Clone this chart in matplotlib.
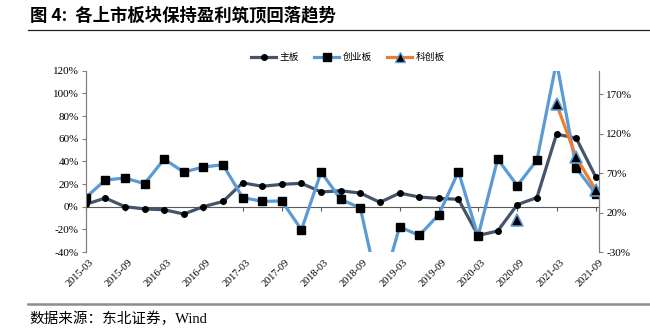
import numpy as np
import matplotlib.pyplot as plt
from matplotlib.lines import Line2D

plt.rcParams['font.family'] = ['Liberation Serif', 'Noto Sans CJK SC']

# quarterly dates, 2015-03 .. 2021-09
quarters = ['2015-03', '2015-06', '2015-09', '2015-12', '2016-03', '2016-06',
            '2016-09', '2016-12', '2017-03', '2017-06', '2017-09', '2017-12',
            '2018-03', '2018-06', '2018-09', '2018-12', '2019-03', '2019-06',
            '2019-09', '2019-12', '2020-03', '2020-06', '2020-09', '2020-12',
            '2021-03', '2021-06', '2021-09']

# net profit growth, %
main_board = [2, 7.6, 0, -2, -2.7, -6.5, 0, 4.6, 21, 18, 19.7, 20.6, 13, 14,
              12, 3.8, 12, 8.5, 7.3, 6.5, -25.4, -21.5, 1.8, 8, 64, 60.5, 26.2]
chinext = [8, 23.5, 25.3, 20.3, 42, 30.5, 35, 37, 8, 4.7, 5, -20.4, 30.5, 6.5,
           -1.2, -79, -17.7, -25.4, -7, 31, -26, 42, 18.6, 41, 128, 34.3, 11.2]
# STAR market on right axis
star = [None] * 22 + [11.2, None, 157.7, 90.3, 48.4]

left_ticks = [-40, -20, 0, 20, 40, 60, 80, 100, 120]
right_ticks = [-30, 20, 70, 120, 170]

x = np.arange(len(quarters))
main_arr = np.array(main_board, dtype=float)
gem_arr = np.array(chinext, dtype=float)
star_arr = np.array([np.nan if v is None else v for v in star])

fig = plt.figure(figsize=(6.5, 3.28), dpi=100)
ax = fig.add_axes([0.1318, 0.2317, 0.7902, 0.5528])
ax2 = ax.twinx()

dark = '#44546A'
blue = '#5B9BD5'
orange = '#ED7D31'
grey = '#7F7F7F'

ax.plot(x, main_arr, color=dark, lw=2.3, marker='o', ms=4,
        mfc='black', mec='black', label='主板', zorder=3)
ax.plot(x, gem_arr, color=blue, lw=2.3, marker='s', ms=6,
        mfc='black', mec='black', label='创业板', zorder=4)
ax2.plot(x, star_arr, color=orange, lw=2.3, marker='^', ms=8,
         mfc='black', mec=blue, mew=1.2, label='科创板', zorder=5)

ax.set_xlim(0, 26.18)
ax.set_ylim(-40, 120)
ax2.set_ylim(-30, 200)
ax.set_yticks(left_ticks)
ax.set_yticklabels([f'{v}%' for v in left_ticks])
ax2.set_yticks(right_ticks)
ax2.set_yticklabels([f'{v}%' for v in right_ticks])

for a in (ax, ax2):
    a.spines['top'].set_visible(False)
    a.spines['left'].set_color(grey)
    a.spines['right'].set_color(grey)
    a.tick_params(axis='y', labelsize=8, length=3, color=grey, pad=2)
ax2.spines['bottom'].set_visible(False)

# category axis crosses at 0
ax.spines['bottom'].set_position(('data', 0))
ax.spines['bottom'].set_color('#595959')
ax.set_xticks(x[::2])
ax.tick_params(axis='x', labelbottom=False, length=3, color='#595959')
for i in x[::2]:
    ax.text(i + 0.15, -0.03, quarters[i], transform=ax.get_xaxis_transform(),
            rotation=45, ha='right', va='top', fontsize=7.5,
            rotation_mode='anchor')

handles = [
    Line2D([], [], color=dark, lw=2.3, marker='o', ms=4, mfc='black', mec='black'),
    Line2D([], [], color=blue, lw=2.3, marker='s', ms=6, mfc='black', mec='black'),
    Line2D([], [], color=orange, lw=2.3, marker='^', ms=7, mfc='black', mec=blue),
]
fig.legend(handles, ['主板', '创业板', '科创板'], loc='center',
           bbox_to_anchor=(0.535, 1 - 57 / 328), ncol=3, frameon=False,
           prop={'family': 'Noto Sans CJK SC', 'size': 7},
           handlelength=2.6, columnspacing=1.6, handletextpad=0.3)

fig.text(0.046, 1 - 15 / 328, '图 4:  各上市板块保持盈利筑顶回落趋势',
         fontsize=12.5, fontweight='bold', va='center', ha='left',
         family=['Noto Sans CJK SC'])
fig.add_artist(Line2D([0.043, 1.0], [1 - 30 / 328] * 2, color='#222222', lw=0.9,
                      transform=fig.transFigure))
fig.add_artist(Line2D([0.043, 1.0], [1 - 304 / 328] * 2, color='#8c8c8c', lw=1.8,
                      transform=fig.transFigure))
fig.text(0.046, 1 - 319 / 328, '数据来源：东北证券，Wind', fontsize=10.5,
         va='center', ha='left')

fig.savefig('out.png', dpi=100)
